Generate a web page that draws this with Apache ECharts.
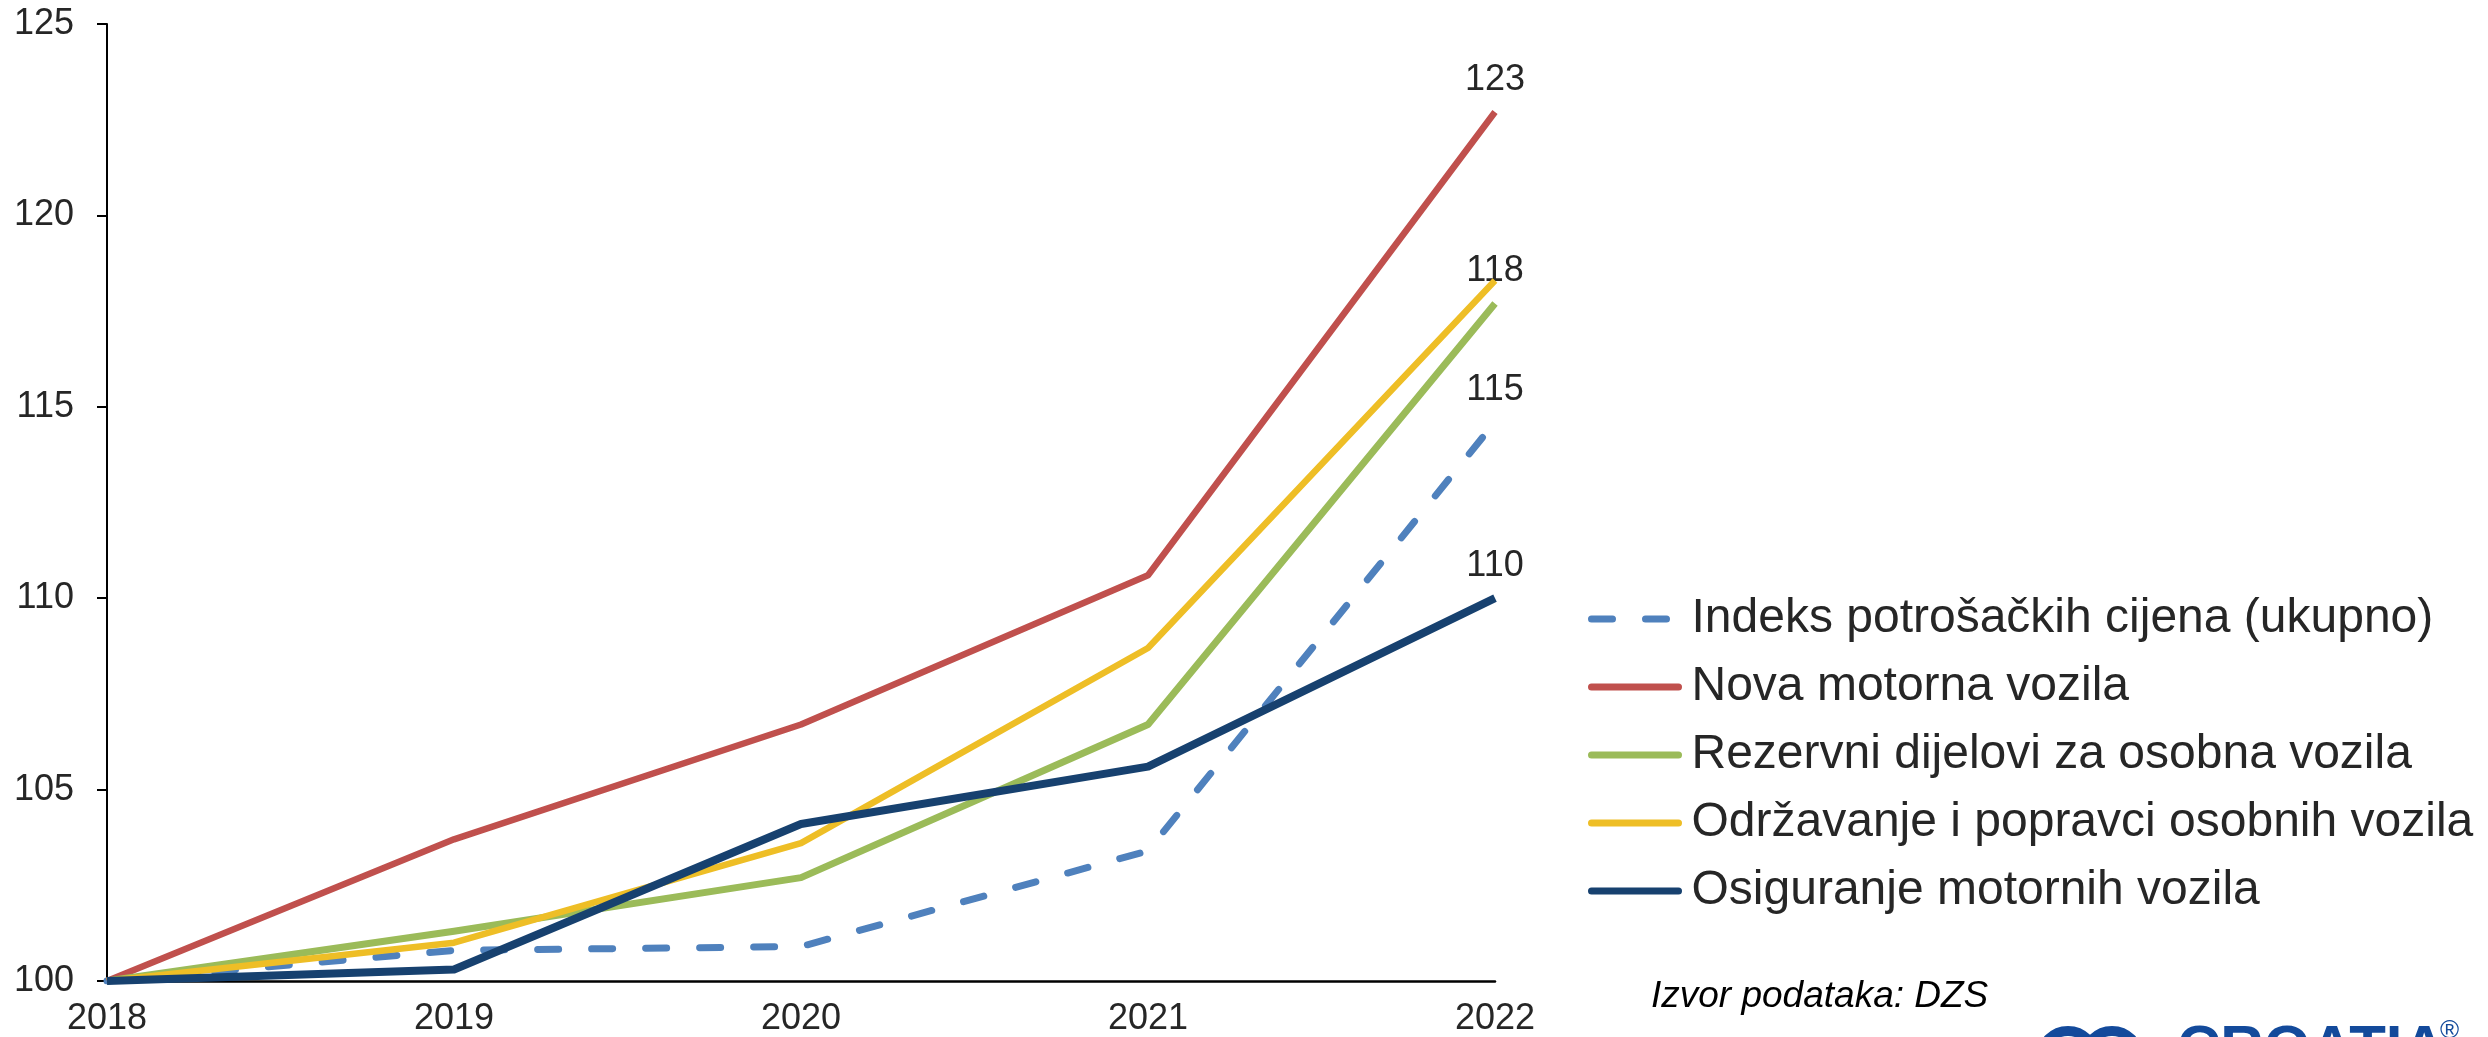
<!DOCTYPE html>
<html>
<head>
<meta charset="utf-8">
<script src="https://cdn.jsdelivr.net/npm/echarts@6/dist/echarts.min.js"></script>
<style>
html,body{margin:0;padding:0;background:#fff;}
#chart{width:2488px;height:1037px;}
</style>
</head>
<body>
<div id="chart"></div>
<script>
var years = ['2018', '2019', '2020', '2021', '2022'];
var seriesNames = [
  'Indeks potrošačkih cijena (ukupno)',
  'Nova motorna vozila',
  'Rezervni dijelovi za osobna vozila',
  'Održavanje i popravci osobnih vozila',
  'Osiguranje motornih vozila'
];
var cpiTotal   = [100, 100.8, 100.9, 103.4, 114.6];
var newCars    = [100, 103.7, 106.7, 110.6, 122.7];
var spareParts = [100, 101.3, 102.7, 106.7, 117.7];
var repairs    = [100, 101.0, 103.6, 108.7, 118.3];
var insurance  = [100, 100.3, 104.1, 105.6, 110.0];
var yTicks = [100, 105, 110, 115, 120, 125];
var sourceText = 'Izvor podataka: DZS';

var colors = ['#4F81BD', '#C0504D', '#9BBB59', '#EEBE26', '#17416F'];
var widths = [7, 6.5, 7, 6.5, 8];
var FONT = '"Liberation Sans", Arial, sans-serif';
var TXT = '#262626';

function mk(i, data, dashed, labelShow, z) {
  return {
    name: seriesNames[i],
    type: 'line',
    data: data,
    symbol: 'none',
    showSymbol: false,
    z: z,
    lineStyle: {
      color: colors[i],
      width: widths[i],
      type: dashed ? [21, 33] : 'solid',
      cap: dashed ? 'round' : 'butt',
      join: 'round'
    },
    itemStyle: { color: colors[i] },
    endLabel: {
      show: labelShow,
      distance: 0,
      align: 'center',
      verticalAlign: 'bottom',
      offset: [0, -14],
      fontFamily: FONT,
      fontSize: 36,
      color: TXT,
      formatter: function (p) { return String(Math.round(p.value)); }
    },
    emphasis: { disabled: true },
    animation: false
  };
}

var chart = echarts.init(document.getElementById('chart'), null, { renderer: 'canvas' });
chart.setOption({
  backgroundColor: '#ffffff',
  animation: false,
  color: colors,
  grid: { left: 107, right: 993, top: 24, bottom: 55, containLabel: false },
  xAxis: {
    type: 'category',
    data: years,
    boundaryGap: false,
    axisLine: { show: true, onZero: false, lineStyle: { color: '#000', width: 2.5 } },
    axisTick: { show: false },
    splitLine: { show: false },
    axisLabel: { fontFamily: FONT, fontSize: 36, color: TXT, margin: 20 }
  },
  yAxis: {
    type: 'value',
    min: yTicks[0],
    max: yTicks[yTicks.length - 1],
    interval: 5,
    axisLine: { show: true, lineStyle: { color: '#000', width: 2 } },
    axisTick: { show: true, inside: false, length: 10, lineStyle: { color: '#000', width: 2 } },
    splitLine: { show: false },
    axisLabel: { fontFamily: FONT, fontSize: 36, color: TXT, margin: 33 }
  },
  legend: {
    orient: 'vertical',
    left: 1583,
    top: 586,
    padding: 5,
    itemGap: 12,
    itemWidth: 87,
    itemHeight: 14,
    selectedMode: false,
    itemStyle: { opacity: 0 },
    lineStyle: { width: 7, cap: 'round' },
    textStyle: { fontFamily: FONT, fontSize: 48, color: TXT, lineHeight: 56, padding: [0, 0, 0, 8] },
    data: seriesNames
  },
  series: [
    mk(0, cpiTotal, true, true, 2),
    mk(1, newCars, false, true, 3),
    mk(2, spareParts, false, true, 4),
    mk(3, repairs, false, false, 5),
    mk(4, insurance, false, true, 6)
  ],
  graphic: [
    {
      type: 'text', left: 1651, top: 978, silent: true,
      style: { text: sourceText, fontFamily: FONT, fontSize: 37, fontStyle: 'italic', fill: '#000' }
    },
    {
      type: 'circle', silent: true, shape: { cx: 2068, cy: 1058, r: 27 },
      style: { fill: 'none', stroke: '#134A9B', lineWidth: 10 }
    },
    {
      type: 'circle', silent: true, shape: { cx: 2112, cy: 1058, r: 27 },
      style: { fill: 'none', stroke: '#134A9B', lineWidth: 10 }
    },
    {
      type: 'text', left: 2177, top: 1020, silent: true,
      style: { text: 'CROATIA', fontFamily: FONT, fontSize: 60, fontWeight: 'bold', fill: '#134A9B' }
    },
    {
      type: 'text', left: 2440, top: 1018, silent: true,
      style: { text: '®', fontFamily: FONT, fontSize: 26, fill: '#134A9B' }
    }
  ]
});
</script>
</body>
</html>
